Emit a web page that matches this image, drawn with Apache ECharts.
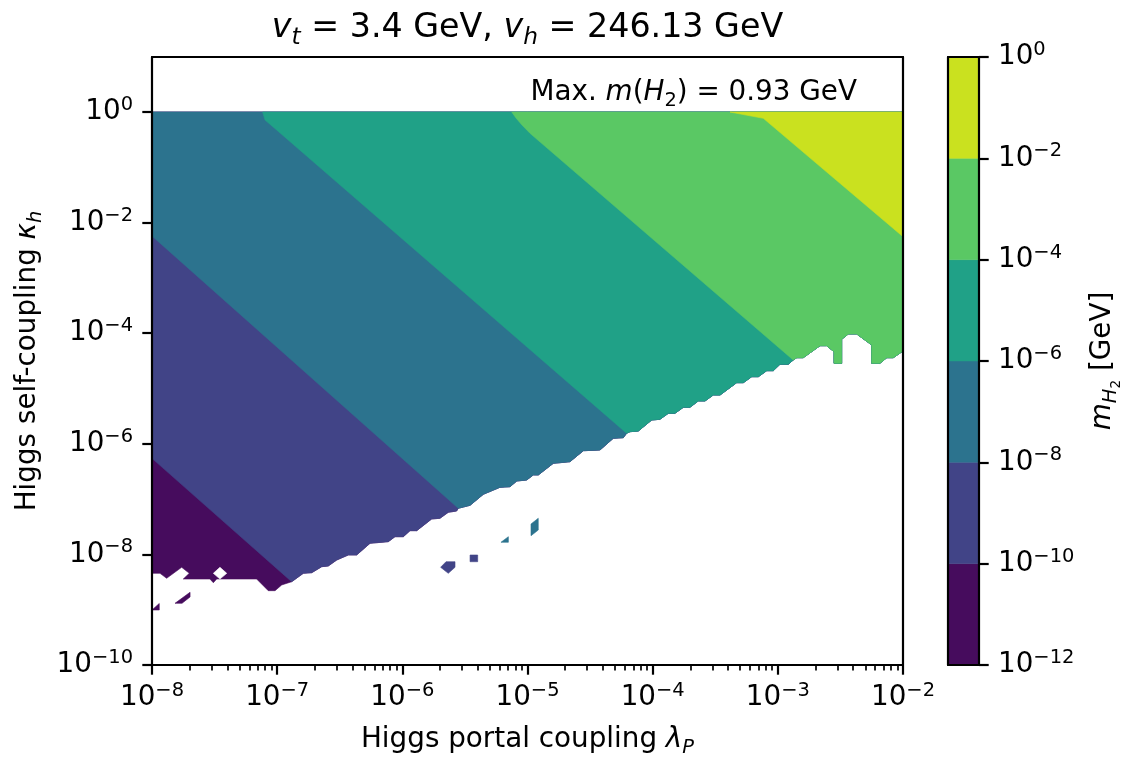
<!DOCTYPE html>
<html>
<head>
<meta charset="utf-8">
<script src="https://cdn.jsdelivr.net/npm/echarts@6/dist/echarts.min.js"></script>
<style>html,body{margin:0;padding:0;background:#fff}#c{width:1124px;height:760px}</style>
</head>
<body>
<div id="c"></div>
<script>
// ---------------- data (log10 values) ----------------
const xTickExps = [-8, -7, -6, -5, -4, -3, -2];          // log10 lambda_P ticks
const yTickExps = [-10, -8, -6, -4, -2, 0];              // log10 kappa_h ticks
const levelExps = [-12, -10, -8, -6, -4, -2, 0];         // contour levels, log10 m_H2 [GeV]
const minorSubs = [2, 3, 4, 5, 6, 7, 8, 9];
const bandColors = ['#460c5d', '#414487', '#2c738e', '#20a187', '#5ac864', '#cae11f'];

// contour lines between bands: [log10 lambda_P, log10 kappa_h]
const line10 = [[-8, -6.263], [-6.884, -8.494]];
const line8  = [[-8, -2.242], [-5.553, -7.166]];
const line6  = [[-7.116, 0], [-7.097, -0.145], [-7.004, -0.325], [-4.208, -5.810]];
const line4  = [[-5.126, 0], [-5.092, -0.108], [-5.044, -0.235], [-4.980, -0.385], [-2.877, -4.485]];
const line2  = [[-3.382, 0], [-3.116, -0.114], [-2.016, -2.224], [-2, -2.26]];

// lower (jagged) edge of the region with a solution, left to right
const edge0 = [[-8, -8.342], [-7.936, -8.342], [-7.883, -8.432], [-7.763, -8.233], [-7.702, -8.342], [-7.750, -8.445],
  [-7.537, -8.445], [-7.510, -8.512], [-7.483, -8.445], [-7.164, -8.445], [-7.071, -8.656], [-7.017, -8.656],
  [-6.964, -8.553], [-6.884, -8.494]];
const edge1 = [[-6.791, -8.342], [-6.724, -8.331], [-6.644, -8.222], [-6.592, -8.210], [-6.524, -8.101], [-6.432, -8.011],
  [-6.365, -8.011], [-6.258, -7.799], [-6.112, -7.770], [-6.059, -7.680], [-5.992, -7.680], [-5.939, -7.571],
  [-5.885, -7.571], [-5.766, -7.360], [-5.699, -7.347], [-5.633, -7.239], [-5.566, -7.215], [-5.553, -7.166]];
const edge2 = [[-5.459, -7.112], [-5.353, -6.913], [-5.220, -6.787], [-5.140, -6.776], [-5.086, -6.673], [-5.007, -6.655],
  [-4.954, -6.564], [-4.914, -6.564], [-4.794, -6.353], [-4.661, -6.324], [-4.554, -6.125], [-4.421, -6.112],
  [-4.315, -5.901], [-4.235, -5.890], [-4.208, -5.810]];
const edge3 = [[-4.181, -5.781], [-4.115, -5.769], [-4.008, -5.570], [-3.942, -5.557], [-3.875, -5.449], [-3.822, -5.449],
  [-3.755, -5.340], [-3.702, -5.340], [-3.636, -5.226], [-3.582, -5.226], [-3.516, -5.118], [-3.462, -5.118],
  [-3.329, -4.895], [-3.276, -4.895], [-3.209, -4.787], [-3.156, -4.787], [-3.089, -4.678], [-3.036, -4.678],
  [-2.983, -4.562], [-2.917, -4.562], [-2.877, -4.485]];
const edge4 = [[-2.849, -4.443], [-2.797, -4.443], [-2.663, -4.226], [-2.610, -4.226], [-2.551, -4.335], [-2.551, -4.544],
  [-2.490, -4.544], [-2.490, -4.110], [-2.437, -4.014], [-2.370, -4.014], [-2.250, -4.213], [-2.250, -4.544],
  [-2.184, -4.544], [-2.130, -4.443], [-2.078, -4.443], [-2, -4.322]];
const cornerTL = [-8, 0];
const cornerTR = [-2, 0];

// isolated patches
const holes = [[[-7.510, -8.342], [-7.457, -8.233], [-7.403, -8.342], [-7.457, -8.445]]];
const band0Bits = [[[-8, -9.005], [-7.942, -8.888], [-7.942, -9.005]],
  [[-7.816, -8.884], [-7.696, -8.685], [-7.696, -8.770], [-7.760, -8.884]]];
const band1Bits = [[[-5.694, -8.233], [-5.651, -8.132], [-5.579, -8.132], [-5.579, -8.233], [-5.633, -8.342]],
  [[-5.459, -8.011], [-5.398, -8.011], [-5.398, -8.132], [-5.459, -8.132]]];
const band2Bits = [[[-5.212, -7.781], [-5.153, -7.680], [-5.153, -7.781]],
  [[-4.972, -7.662], [-4.972, -7.450], [-4.914, -7.347], [-4.914, -7.559]]];

// ---------------- build polygons ----------------
const polys = [
  { color: bandColors[0], pts: [cornerTL, ...edge0, ...edge1, ...edge2, ...edge3, ...edge4, cornerTR] },
  { color: bandColors[1], pts: [cornerTL, ...line10, ...edge1, ...edge2, ...edge3, ...edge4, cornerTR] },
  { color: bandColors[2], pts: [cornerTL, ...line8, ...edge2, ...edge3, ...edge4, cornerTR] },
  { color: bandColors[3], pts: [...line6, ...edge3, ...edge4, cornerTR] },
  { color: bandColors[4], pts: [...line4, ...edge4, cornerTR] },
  { color: bandColors[5], pts: [...line2, cornerTR] }
];
holes.forEach(p => polys.push({ color: '#ffffff', pts: p }));
band0Bits.forEach(p => polys.push({ color: bandColors[0], pts: p }));
band1Bits.forEach(p => polys.push({ color: bandColors[1], pts: p }));
band2Bits.forEach(p => polys.push({ color: bandColors[2], pts: p }));

const minorVals = [];
xTickExps.slice(0, -1).forEach(e => minorSubs.forEach(k => minorVals.push(e + Math.log10(k))));

// ---------------- styles ----------------
const FONT = 'DejaVu Sans';
const FS = 27.8;
const tickRich = {
  b: { fontFamily: FONT, fontSize: FS, color: '#000', lineHeight: 34 },
  s: { fontFamily: FONT, fontSize: FS * 0.7, color: '#000', lineHeight: 20, padding: [0, 0, 14, 0] }
};
const nameRich = {
  n: { fontFamily: FONT, fontSize: FS, color: '#000', lineHeight: 34 },
  i: { fontFamily: FONT, fontSize: FS, color: '#000', fontStyle: 'italic', lineHeight: 34 },
  is: { fontFamily: FONT, fontSize: FS * 0.7, color: '#000', fontStyle: 'italic', lineHeight: 20, padding: [16, 0, 0, 0] },
  ss: { fontFamily: FONT, fontSize: FS * 0.49, color: '#000', lineHeight: 14, padding: [27, 0, 0, 0] }
};
function pow10(v) {
  const e = Math.round(v);
  return '{b|10}{s|' + (e < 0 ? '\u2212' + (-e) : String(e)) + '}';
}
const black = { color: '#000', width: 2.2 };
function frameAxis(extra) {
  return Object.assign({
    type: 'value', z: 10, axisLine: { show: true, onZero: false, lineStyle: black },
    axisTick: { show: false }, axisLabel: { show: false }, splitLine: { show: false }
  }, extra);
}

const chart = echarts.init(document.getElementById('c'), null, { renderer: 'canvas' });
chart.setOption({
  animation: false,
  backgroundColor: '#fff',
  grid: [
    { left: 152, top: 57, width: 751, height: 608, outerBoundsMode: 'none', containLabel: false },
    { left: 948, top: 57, width: 31, height: 608, outerBoundsMode: 'none', containLabel: false }
  ],
  xAxis: [
    {
      type: 'value', gridIndex: 0, min: -8, max: -2, position: 'bottom', z: 10,
      axisLine: { show: true, onZero: false, lineStyle: black },
      axisTick: { show: true, inside: false, length: 9.7, lineStyle: black, customValues: xTickExps },
      axisLabel: { show: true, customValues: xTickExps, formatter: pow10, margin: 16, rich: tickRich,
        showMinLabel: true, showMaxLabel: true },
      splitLine: { show: false },
      name: '{n|Higgs portal coupling }{i|\u03bb}{is|P}', nameLocation: 'middle', nameGap: 58,
      nameTextStyle: { fontFamily: FONT, fontSize: FS, color: '#000', rich: nameRich }
    },
    {
      type: 'value', gridIndex: 0, min: -8, max: -2, position: 'bottom', z: 10,
      axisLine: { show: false, onZero: false },
      axisTick: { show: true, inside: false, length: 5.6, lineStyle: { color: '#000', width: 1.7 }, customValues: minorVals },
      axisLabel: { show: false }, splitLine: { show: false }
    },
    frameAxis({ gridIndex: 0, min: -8, max: -2, position: 'top' }),
    frameAxis({ gridIndex: 1, min: 0, max: 1, position: 'bottom' }),
    frameAxis({ gridIndex: 1, min: 0, max: 1, position: 'top' })
  ],
  yAxis: [
    {
      type: 'value', gridIndex: 0, min: -10, max: 0.995, position: 'left', z: 10,
      axisLine: { show: true, onZero: false, lineStyle: black },
      axisTick: { show: true, inside: false, length: 9.7, lineStyle: black, customValues: yTickExps },
      axisLabel: { show: true, customValues: yTickExps, formatter: pow10, margin: 19, rich: tickRich,
        showMinLabel: true, showMaxLabel: true },
      splitLine: { show: false },
      name: '{n|Higgs self-coupling }{i|\u03ba}{is|h}', nameLocation: 'middle', nameGap: 104, nameRotate: 90,
      nameTextStyle: { fontFamily: FONT, fontSize: FS, color: '#000', rich: nameRich }
    },
    frameAxis({ gridIndex: 0, min: -10, max: 0.995, position: 'right' }),
    frameAxis({ gridIndex: 1, min: -12, max: 0, position: 'left' }),
    {
      type: 'value', gridIndex: 1, min: -12, max: 0, position: 'right', z: 10,
      axisLine: { show: true, onZero: false, lineStyle: black },
      axisTick: { show: true, inside: false, length: 9.7, lineStyle: black, customValues: levelExps },
      axisLabel: { show: true, customValues: levelExps, formatter: pow10, margin: 19, rich: tickRich,
        showMinLabel: true, showMaxLabel: true },
      splitLine: { show: false },
      name: '{i|m}{is|H}{ss|2}{n| [GeV]}', nameLocation: 'middle', nameGap: 107, nameRotate: 90,
      nameTextStyle: { fontFamily: FONT, fontSize: FS, color: '#000', rich: nameRich }
    }
  ],
  series: [
    {
      type: 'custom', xAxisIndex: 0, yAxisIndex: 0, silent: true, clip: true,
      data: polys.map(p => p.pts[0]),
      renderItem: function (params, api) {
        const p = polys[params.dataIndex];
        return {
          type: 'polygon',
          shape: { points: p.pts.map(q => api.coord(q)) },
          style: { fill: p.color, stroke: p.color, lineWidth: 0.6 }
        };
      }
    },
    {
      type: 'custom', xAxisIndex: 3, yAxisIndex: 3, silent: true,
      data: bandColors.map((c, i) => [0.5, (levelExps[i] + levelExps[i + 1]) / 2]),
      renderItem: function (params, api) {
        const i = params.dataIndex;
        const a = api.coord([0, levelExps[i + 1]]);
        const b = api.coord([1, levelExps[i]]);
        return {
          type: 'rect',
          shape: { x: a[0], y: a[1], width: b[0] - a[0], height: b[1] - a[1] },
          style: { fill: bandColors[i], stroke: bandColors[i], lineWidth: 0.5 }
        };
      }
    }
  ]
});

// text annotations placed relative to the main axes
const gRich = (fs) => ({
  n: { fontFamily: FONT, fontSize: fs, fill: '#000', lineHeight: fs * 1.22 },
  i: { fontFamily: FONT, fontSize: fs, fill: '#000', fontStyle: 'italic', lineHeight: fs * 1.22 },
  is: { fontFamily: FONT, fontSize: fs * 0.7, fill: '#000', fontStyle: 'italic', lineHeight: fs * 0.72, padding: [fs * 0.58, 0, 0, 0] },
  s: { fontFamily: FONT, fontSize: fs * 0.7, fill: '#000', lineHeight: fs * 0.72, padding: [fs * 0.58, 0, 0, 0] }
});
const topMid = chart.convertToPixel({ xAxisIndex: 0, yAxisIndex: 0 }, [-5, 0.995]);
const annPos = chart.convertToPixel({ xAxisIndex: 0, yAxisIndex: 0 }, [-2.368, 0.344]);
chart.setOption({
  graphic: [
    {
      type: 'text', x: topMid[0], y: topMid[1] - 29, z: 20,
      style: {
        text: '{i|v}{is|t}{n| = 3.4 GeV, }{i|v}{is|h}{n| = 246.13 GeV}',
        rich: gRich(33.3), align: 'center', verticalAlign: 'middle', textAlign: 'center', textVerticalAlign: 'middle'
      }
    },
    {
      type: 'text', x: annPos[0], y: annPos[1], z: 20,
      style: {
        text: '{n|Max. }{i|m}{n|(}{i|H}{s|2}{n|) = 0.93 GeV}',
        rich: gRich(FS), align: 'right', verticalAlign: 'middle', textAlign: 'right', textVerticalAlign: 'middle'
      }
    }
  ]
});
</script>
</body>
</html>
